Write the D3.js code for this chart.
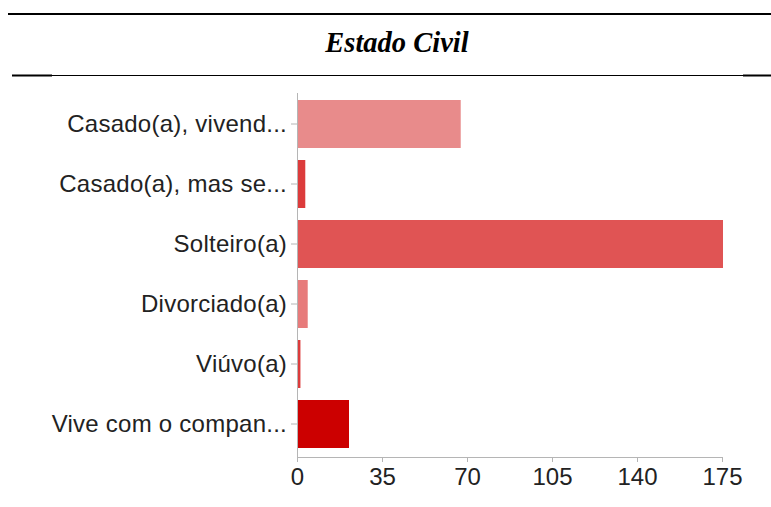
<!DOCTYPE html>
<html><head><meta charset="utf-8">
<script src="https://cdn.jsdelivr.net/npm/d3@7"></script>
<style>body{margin:0;background:#fff}svg{display:block}</style>
</head><body>
<script>
const title = "Estado Civil";
const categories = ["Casado(a), vivend...", "Casado(a), mas se...", "Solteiro(a)", "Divorciado(a)", "Viúvo(a)", "Vive com o compan..."];
const values = [67, 3, 175, 4, 1, 21];
const colors = ["#e88b8b", "#dc3b3b", "#e05454", "#e77b7b", "#dc3b3b", "#cc0000"];
const xTicks = [0, 35, 70, 105, 140, 175];

const W = 771, H = 507;
const svg = d3.select("body").append("svg").attr("width", W).attr("height", H);

// rules
svg.append("line").attr("x1", 8).attr("x2", 771).attr("y1", 14).attr("y2", 14).attr("stroke", "#000").attr("stroke-width", 2);
svg.append("line").attr("x1", 12).attr("x2", 52).attr("y1", 75.5).attr("y2", 75.5).attr("stroke", "#000").attr("stroke-width", 2);
svg.append("line").attr("x1", 52).attr("x2", 743).attr("y1", 75.5).attr("y2", 75.5).attr("stroke", "#000").attr("stroke-width", 1);
svg.append("line").attr("x1", 743).attr("x2", 771).attr("y1", 75.5).attr("y2", 75.5).attr("stroke", "#000").attr("stroke-width", 2);

svg.append("text").attr("x", 397).attr("y", 52).attr("text-anchor", "middle")
  .attr("font-family", "'Liberation Serif','Times New Roman',serif")
  .attr("font-style", "italic").attr("font-weight", "bold").attr("font-size", 28.5)
  .attr("fill", "#000").text(title);

const x = d3.scaleLinear().domain([0, 175]).range([297, 722]);
const y = d3.scaleBand().domain(categories).range([94, 454]).paddingInner(0.2).paddingOuter(0.1);

const font = "'Liberation Sans',Arial,Helvetica,sans-serif";

svg.selectAll("rect.bar").data(categories).join("rect").attr("class", "bar")
  .attr("x", x(0) + 1).attr("y", d => y(d))
  .attr("width", (d, i) => Math.max(0, x(values[i]) - x(0)))
  .attr("height", y.bandwidth())
  .attr("fill", (d, i) => colors[i]);

// y axis
const ya = svg.append("g").attr("transform", `translate(${x(0)},0)`)
  .call(d3.axisLeft(y).tickSize(6).tickPadding(4));
ya.select(".domain").attr("d", `M0.5,93V457.5`).attr("stroke", "#b5b5b5");
ya.selectAll(".tick line").attr("stroke", "#b5b5b5");
ya.selectAll(".tick text").attr("font-family", font).attr("font-size", 24)
  .attr("letter-spacing", "0.25px").attr("fill", "#222");

// x axis
const xa = svg.append("g").attr("transform", `translate(0,457)`)
  .call(d3.axisBottom(x).tickValues(xTicks).tickSize(5).tickPadding(6));
xa.select(".domain").attr("d", `M297,0.5H722.5`).attr("stroke", "#b5b5b5");
xa.selectAll(".tick line").attr("stroke", "#b5b5b5");
xa.selectAll(".tick text").attr("font-family", font).attr("font-size", 24).attr("fill", "#222");
</script>
</body></html>
